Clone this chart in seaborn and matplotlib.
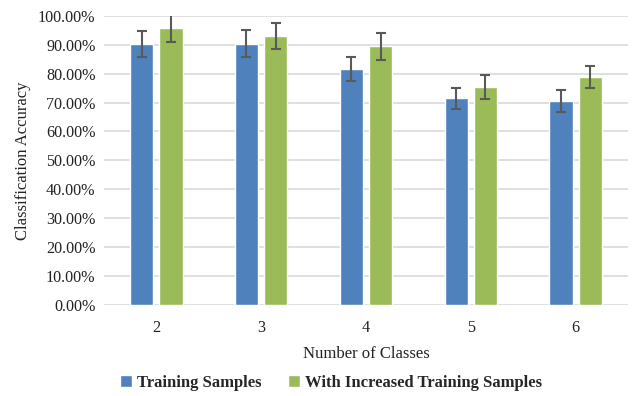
import matplotlib
matplotlib.use('Agg')
import pandas as pd
import matplotlib.pyplot as plt
import seaborn as sns
from matplotlib.ticker import FuncFormatter

# Values
class_counts = ['2', '3', '4', '5', '6']
training_acc = [90.2, 90.4, 81.5, 71.5, 70.5]
training_err = [4.6, 4.7, 4.2, 3.6, 3.7]
increased_acc = [95.8, 93.0, 89.5, 75.4, 78.8]
increased_err = [4.8, 4.6, 4.7, 4.0, 3.9]
series_names = ['Training Samples', 'With Increased Training Samples']

df = pd.DataFrame({
    'classes': class_counts * 2,
    'accuracy': training_acc + increased_acc,
    'err': training_err + increased_err,
    'series': [series_names[0]] * 5 + [series_names[1]] * 5,
})

sns.set_style('white')
plt.rcParams['font.family'] = ['Liberation Serif', 'DejaVu Serif']

fig = plt.figure(figsize=(6.37, 3.96), dpi=100)
ax = fig.add_axes([0.163, 0.230, 0.823, 0.730])

palette = {series_names[0]: '#4F81BD', series_names[1]: '#9BBB59'}
sns.barplot(data=df, x='classes', y='accuracy', hue='series', palette=palette,
            width=0.56, gap=0.21, errorbar=None, saturation=1, ax=ax, zorder=3)

# error bars at the centre of each bar
for patch, (_, row) in zip(ax.patches, df.iterrows()):
    xc = patch.get_x() + patch.get_width() / 2
    ax.errorbar(xc, patch.get_height(), yerr=row['err'], fmt='none',
                ecolor='#595959', elinewidth=1.5, capsize=3.5, capthick=1.5,
                zorder=4, clip_on=True)

ax.set_ylim(0, 100)
ax.set_xlim(-0.5, 4.5)
ax.set_yticks(range(0, 101, 10))
ax.yaxis.set_major_formatter(FuncFormatter(lambda v, p: f'{v:.2f}%'))
ax.yaxis.grid(True, color='#D9D9D9', linewidth=1.2, zorder=0)
ax.set_axisbelow(True)
for s in ax.spines.values():
    s.set_visible(False)
ax.tick_params(axis='both', length=0, labelsize=11.6, colors='#222222')
ax.tick_params(axis='x', pad=11)
ax.tick_params(axis='y', pad=6)

ax.set_xlabel('Number of Classes', fontsize=12, color='#222222', labelpad=7)
ax.set_ylabel('Classification Accuracy', fontsize=12, color='#222222', labelpad=5)

handles, labels = ax.get_legend_handles_labels()
ax.get_legend().remove()
fig.legend(handles, labels, loc='center', bbox_to_anchor=(0.52, 0.033), ncol=2,
           frameon=False, prop={'weight': 'bold', 'size': 12},
           handlelength=0.7, handleheight=0.7, handletextpad=0.3, columnspacing=1.6)

fig.savefig('out.png', dpi=100)
